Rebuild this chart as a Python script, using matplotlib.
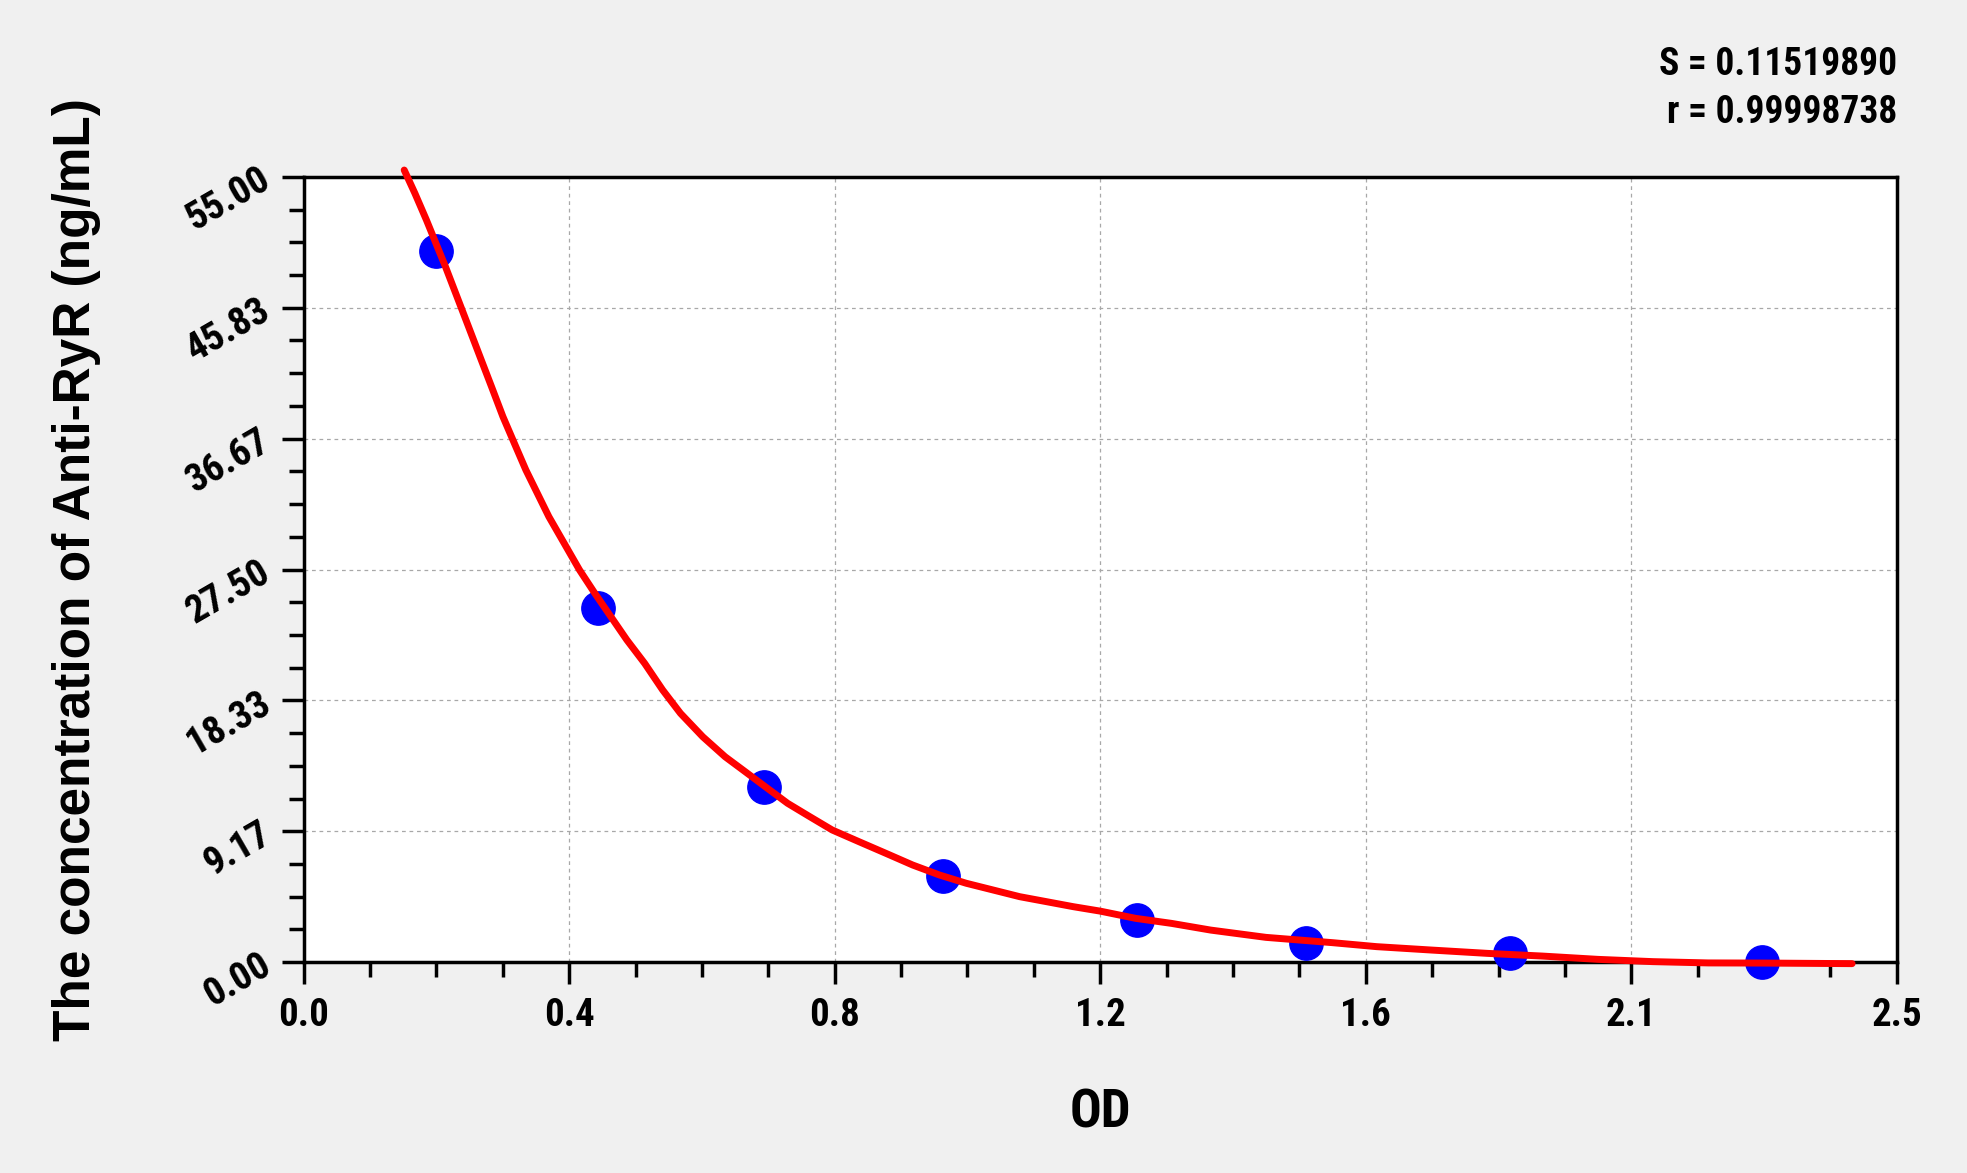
import numpy as np
import matplotlib.pyplot as plt
from matplotlib import font_manager
from matplotlib.ticker import AutoMinorLocator

# standards (OD vs concentration)
od = [0.204, 0.455, 0.711, 0.987, 1.287, 1.547, 1.863, 2.252]
conc = [49.8, 24.8, 12.3, 6.05, 2.95, 1.35, 0.65, 0.0]

# fitted curve
curve_od = [0.1552, 0.1717, 0.1895, 0.2189, 0.2367, 0.2545, 0.2722, 0.2900, 0.3076,
            0.3253, 0.3431, 0.3608, 0.3786, 0.4022, 0.4259, 0.4495, 0.4672, 0.4990,
            0.5265, 0.5542, 0.5818, 0.6162, 0.6507, 0.6783, 0.7128, 0.7472, 0.7816,
            0.8161, 0.8575, 0.8988, 0.9402, 0.9816, 1.0230, 1.0643, 1.1056, 1.1470,
            1.1883, 1.2297, 1.2849, 1.3400, 1.4006, 1.4859, 1.5884, 1.6567, 1.7421,
            1.8275, 1.9129, 1.9983, 2.0835, 2.1689, 2.2543, 2.3910]
curve_conc = [55.48, 53.85, 51.98, 48.71, 46.61, 44.51, 42.41, 40.31, 38.21,
              36.34, 34.47, 32.84, 31.20, 29.34, 27.47, 25.84, 24.67, 22.57,
              20.93, 19.07, 17.43, 15.79, 14.39, 13.46, 12.29, 11.13, 10.19,
              9.26, 8.44, 7.63, 6.81, 6.11, 5.53, 5.06, 4.59, 4.24,
              3.89, 3.58, 3.07, 2.72, 2.25, 1.74, 1.37, 1.09, 0.85,
              0.62, 0.43, 0.20, 0.04, -0.05, -0.06, -0.10]

x_labels = ['0.0', '0.4', '0.8', '1.2', '1.6', '2.1', '2.5']
y_labels = ['0.00', '9.17', '18.33', '27.50', '36.67', '45.83', '55.00']
x_max = 2.46
y_max = 55.0

# pick a narrow face (with a bold weight) if one is installed
installed = {f.name for f in font_manager.fontManager.ttflist}
narrow = [f for f in ['Liberation Sans Narrow', 'Arial Narrow', 'Roboto Condensed']
          if f in installed] + ['Liberation Sans', 'DejaVu Sans']
wide = ['Liberation Sans', 'DejaVu Sans']

fig = plt.figure(figsize=(19.67, 11.73), dpi=100, facecolor='#f0f0f0')
ax = fig.add_axes([0.1544, 0.1797, 0.8099, 0.6695])
ax.set_facecolor('white')

ax.plot(od, conc, 'o', color='#0000ff', markersize=24, clip_on=False, zorder=3)
ax.plot(curve_od, curve_conc, color='#ff0000', linewidth=5, clip_on=False, zorder=4,
        solid_capstyle='round')

ax.set_xlim(0, x_max)
ax.set_ylim(0, y_max)
ax.set_xticks(np.linspace(0, x_max, 7))
ax.set_yticks(np.linspace(0, y_max, 7))
ax.set_xticklabels(x_labels, fontfamily=narrow, fontweight='bold', fontsize=28)
ax.set_yticklabels(y_labels, fontfamily=narrow, fontweight='bold', fontsize=28,
                   rotation=30, rotation_mode='anchor', ha='right', va='center')
ax.xaxis.set_minor_locator(AutoMinorLocator(4))
ax.yaxis.set_minor_locator(AutoMinorLocator(4))
ax.tick_params(which='major', direction='out', length=16, width=2.5, color='black')
ax.tick_params(which='minor', direction='out', length=11, width=2.5, color='black')
ax.tick_params(axis='x', which='major', pad=9)
ax.tick_params(axis='y', which='major', pad=10)

for s in ax.spines.values():
    s.set_linewidth(2.5)
    s.set_color('black')

ax.grid(True, which='major', linestyle=(0, (3, 3)), color='#a8a8a8', linewidth=0.9)
ax.set_axisbelow(True)

ax.set_xlabel('OD', fontfamily=narrow, fontweight='bold', fontsize=38, va='center')
ax.xaxis.set_label_coords(0.5, -0.192)
ax.set_ylabel('The concentration of Anti-RyR (ng/mL)', fontfamily=wide,
              fontweight='bold', fontsize=37, va='center')
ax.yaxis.set_label_coords(-0.1429, 0.5)

ax.text(1.0, 1.143, 'S = 0.11519890', transform=ax.transAxes, ha='right', va='center',
        fontfamily=narrow, fontweight='bold', fontsize=27)
ax.text(1.0, 1.082, 'r = 0.99998738', transform=ax.transAxes, ha='right', va='center',
        fontfamily=narrow, fontweight='bold', fontsize=27)

plt.savefig('out.png', dpi=100, facecolor=fig.get_facecolor())
plt.close()
